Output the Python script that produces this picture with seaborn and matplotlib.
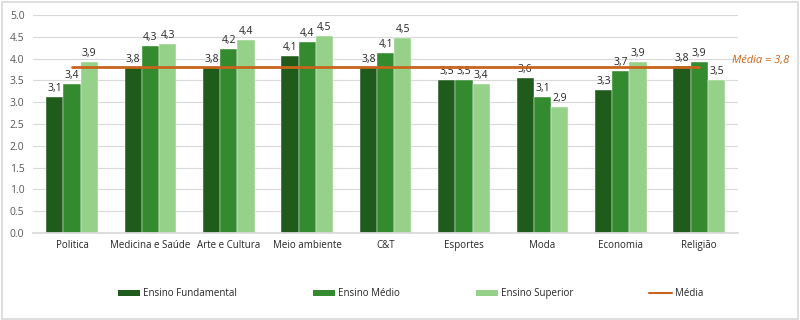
import matplotlib
matplotlib.use("Agg")
import matplotlib.pyplot as plt
import seaborn as sns
import pandas as pd
from matplotlib.patches import Patch, Rectangle
from matplotlib.lines import Line2D

categories = ["Politica", "Medicina e Saúde", "Arte e Cultura", "Meio ambiente", "C&T",
              "Esportes", "Moda", "Economia", "Religião"]
series = ["Ensino Fundamental", "Ensino Médio", "Ensino Superior"]
fundamental = [3.12, 3.80, 3.80, 4.06, 3.80, 3.51, 3.56, 3.28, 3.82]
medio = [3.42, 4.29, 4.22, 4.38, 4.13, 3.52, 3.13, 3.71, 3.92]
superior = [3.92, 4.33, 4.43, 4.52, 4.47, 3.42, 2.89, 3.92, 3.51]
media = 3.8
yticks = [0.0, 0.5, 1.0, 1.5, 2.0, 2.5, 3.0, 3.5, 4.0, 4.5, 5.0]

colors = ["#1f5b1b", "#348a2f", "#95d189"]
orange = "#c9641c"
txt = "#595959"

sns.set_theme(style="white")
plt.rcParams["font.family"] = ["Open Sans", "DejaVu Sans"]

df = pd.DataFrame({
    "cat": categories * 3,
    "serie": [s for s in series for _ in categories],
    "val": fundamental + medio + superior,
})

fig = plt.figure(figsize=(8, 3.2), dpi=100)
ax = fig.add_axes([0.041, 0.272, 0.882, 0.681])
sns.barplot(data=df, x="cat", y="val", hue="serie", hue_order=series, palette=colors,
            width=0.66, ax=ax, legend=False, saturation=1, edgecolor="white", linewidth=0.3)

ax.set_ylim(0, 5)
ax.set_xlim(-0.5, 8.5)
ax.set_yticks(yticks)
ax.set_yticklabels([f"{v:.1f}" for v in yticks], color=txt, fontsize=7.5)
ax.tick_params(axis="x", labelsize=7, labelcolor="#262626", length=0, pad=5)
ax.tick_params(axis="y", length=0, pad=6)
ax.set_xlabel("")
ax.set_ylabel("")
ax.yaxis.grid(True, color="#d9d9d9", linewidth=0.8)
ax.set_axisbelow(True)
for s in ["top", "right", "left"]:
    ax.spines[s].set_visible(False)
ax.spines["bottom"].set_color("#d9d9d9")

for cont, vals in zip(ax.containers, [fundamental, medio, superior]):
    ax.bar_label(cont, labels=[f"{v:.1f}".replace(".", ",") for v in vals],
                 fontsize=7.5, color="#262626", padding=2)

ax.plot([0, len(categories) - 1], [media, media], color=orange, linewidth=2, zorder=5)
ax.text(8.42, media + 0.02, "Média = " + f"{media:.1f}".replace(".", ","), color=orange,
        fontsize=8, style="italic", va="bottom", ha="left", clip_on=False)

handles = [Patch(facecolor=c, edgecolor="none") for c in colors] + \
          [Line2D([0], [0], color=orange, linewidth=1.5)]
fig.legend(handles, series + ["Média"], loc="center", bbox_to_anchor=(0.513, 0.082), ncol=4,
           frameon=False, fontsize=7, handlelength=2.3, handleheight=0.5,
           columnspacing=7.8, handletextpad=0.3, labelcolor="#262626")

fig.patches.append(Rectangle((0.002, 0.004), 0.996, 0.99, transform=fig.transFigure,
                             fill=False, edgecolor="#d9d9d9", linewidth=1.2))
fig.savefig("out.png", dpi=100)
